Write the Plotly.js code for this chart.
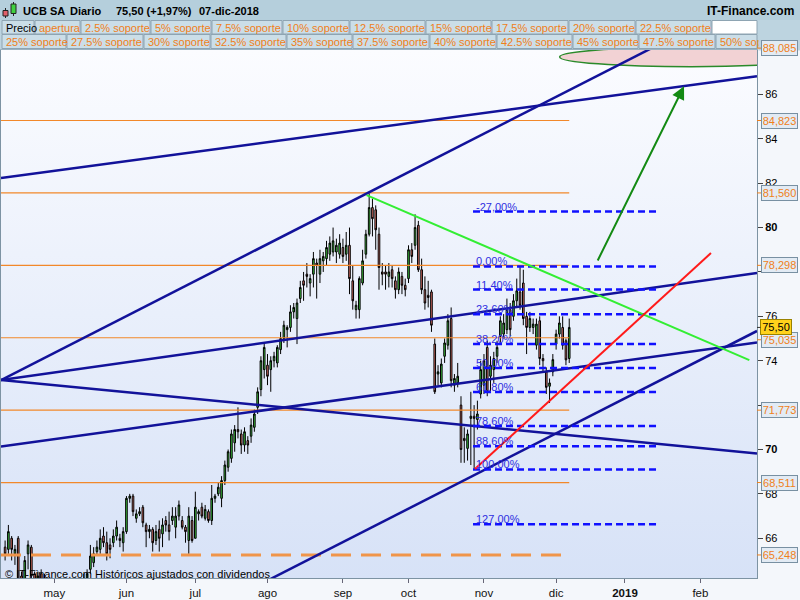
<!DOCTYPE html>
<html><head><meta charset="utf-8">
<script src="https://cdn.plot.ly/plotly-3.0.1.min.js"></script>
<style>
html,body{margin:0;padding:0;background:#f4f7fb;}
#wrap{position:relative;width:800px;height:600px;overflow:hidden;}
#bg{position:absolute;left:1px;top:50px;width:756px;height:528px;background:linear-gradient(#fbfcff,#d7e2f7);}
#chart{position:absolute;left:0;top:0;width:800px;height:600px;}
</style></head><body>
<div id="wrap"><div id="bg"></div><div id="chart"></div></div>
<script>
// ---------------- DATA ----------------
const firstDay = '2018-04-10';
const holidays = ['2018-05-01'];
const nDays = 173;
const open = [65.6,65.5,66.0,65.3,66.0,64.3,64.0,65.3,65.6,64.4, 64.0,64.4,64.2,63.9,63.5,63.6,63.4,63.2,63.3,63.7, 63.5,63.2,63.4,63.8,63.8,64.0,64.6,64.9,65.4,65.5, 66.1,65.8,65.7,65.8,66.1,66.0,65.8,66.3,67.8,67.9, 66.9,67.1,67.4,66.6,66.3,66.4,65.9,66.4,66.2,66.8, 66.6,66.8,66.5,67.0,66.8,66.5,65.9,66.8,66.0,67.1, 67.4,66.9,67.2,66.8,67.8,68.0,67.8,68.6,69.2,69.6, 70.3,70.9,70.7,70.2,70.4,70.6,71.0,71.9,72.7,73.6, 73.8,73.6,74.0,73.9,74.5,75.0,75.4,75.5,76.2,75.9, 76.8,77.6,77.9,77.5,77.9,78.4,77.9,78.5,78.6,78.8, 78.9,78.9,78.8,79.1,78.8,79.2,77.6,76.3,76.3,77.5, 78.8,79.7,80.9,80.8,79.7,78.0,78.0,77.8,78.1,77.6, 77.2,77.8,77.4,77.7,79.0,79.2,80.1,78.1,77.2,76.95, 77.1,74.75,73.4,73.0,74.2,74.7,75.9,72.9,73.0,72.0, 70.5,70.05,71.4,71.5,71.35,72.5,72.9,74.6,73.3,73.6, 74.2,75.1,75.2,75.4,76.3,76.0,76.7,77.1,77.5,76.0, 75.5,75.5,74.7,75.8,74.1,73.5,72.85,73.5,74.75,75.2, 75.5,74.9,74.1];
const high = [65.9,66.6,66.1,65.7,66.1,64.5,65.2,65.9,65.7,64.5, 64.5,64.6,64.4,64.0,63.8,63.9,63.7,63.5,63.9,64.0, 63.8,63.6,63.9,64.1,64.4,64.6,65.7,65.6,65.9,66.4, 66.5,66.3,66.0,66.4,66.8,66.2,66.5,67.9,68.0,68.0, 67.3,67.4,67.5,66.7,66.6,66.5,66.6,66.8,66.9,67.0, 67.2,67.4,67.4,67.7,67.0,66.6,67.4,67.0,68.1,67.3, 67.6,67.5,67.3,68.4,68.0,68.5,68.8,69.5,70.0,70.9, 71.1,71.9,70.9,71.0,70.6,71.4,71.8,72.8,74.2,74.8, 74.3,74.2,74.4,74.7,75.3,75.8,75.6,76.5,76.6,76.8, 77.6,78.0,78.4,77.9,78.9,78.6,79.0,78.9,79.4,79.6, 80.0,79.5,79.7,79.5,79.8,80.0,78.3,76.7,77.8,79.0, 79.9,81.55,81.3,81.0,80.0,78.4,78.3,78.4,78.3,77.8, 78.2,78.0,77.7,79.2,79.3,80.6,80.3,78.6,77.8,77.6, 77.2,75.0,73.8,74.1,75.0,76.1,76.4,73.4,73.9,72.4, 71.0,70.9,72.6,72.0,72.2,74.0,74.3,74.9,74.2,74.4, 74.9,76.0,76.1,76.8,76.6,77.0,77.7,78.3,78.1,76.2, 76.2,75.9,75.9,76.0,74.3,73.7,73.2,74.3,75.4,76.0, 76.0,75.0,75.9];
const low = [65.0,65.3,65.0,64.8,63.8,63.5,63.7,64.6,64.1,63.8, 63.8,63.9,63.7,63.3,63.1,63.2,62.9,62.8,63.1,63.3, 63.0,62.9,63.2,63.4,63.6,63.8,64.4,64.7,65.2,65.3, 65.6,65.0,65.1,65.6,65.9,65.6,65.4,66.2,67.6,67.0, 66.7,67.0,66.5,65.6,66.0,65.4,65.7,65.4,65.6,66.3, 65.9,66.6,66.0,66.8,66.4,65.8,65.3,65.8,66.0,66.8, 66.9,66.8,66.7,66.6,67.6,67.9,67.4,68.4,69.0,69.4, 69.9,70.5,69.8,69.9,69.8,70.3,70.8,71.6,72.4,73.2, 72.9,72.6,73.7,73.7,74.3,74.8,74.6,75.3,75.9,74.75, 76.6,76.7,77.3,76.9,77.3,76.8,77.5,78.0,78.3,78.5, 78.7,78.4,78.6,78.4,78.5,77.0,76.3,75.9,75.9,77.4, 78.6,79.6,79.6,79.0,77.2,77.4,77.2,77.3,77.3,76.8, 77.0,77.0,76.9,77.5,78.4,79.0,78.0,77.0,76.3,76.4, 75.3,72.5,72.9,72.8,73.9,74.5,72.8,72.6,72.8,69.4, 69.4,69.5,69.3,69.1,70.9,72.3,72.5,72.4,72.6,73.0, 73.9,74.8,75.0,75.2,75.1,75.8,76.4,76.3,75.6,74.3, 75.3,75.2,74.5,73.8,73.5,72.5,72.1,73.3,74.5,75.0, 74.5,73.8,73.9];
const close = [65.3,66.3,65.5,65.5,64.1,63.8,65.0,65.7,64.3,64.0, 64.3,64.1,63.9,63.5,63.6,63.4,63.2,63.3,63.7,63.5, 63.2,63.4,63.8,63.6,64.2,64.4,65.2,65.3,65.6,66.0, 65.8,65.3,65.5,66.1,66.5,65.9,66.3,67.8,67.9,67.2, 67.1,67.2,66.7,66.3,66.4,65.8,66.3,66.0,66.6,66.6, 66.3,67.0,67.0,67.5,66.5,66.3,67.0,65.9,67.4,67.2, 67.0,67.3,66.8,67.8,67.9,68.3,68.6,69.3,69.9,70.7, 70.9,70.8,70.2,70.8,70.2,71.1,71.6,72.6,74.0,74.6, 73.3,74.0,74.2,74.6,75.0,75.6,75.5,76.2,76.4,76.6, 77.3,77.4,77.8,77.7,78.6,78.3,78.6,78.7,79.1,79.3, 79.4,79.2,79.3,78.7,79.2,77.7,76.7,76.5,77.7,78.5, 79.7,80.9,80.4,79.9,78.2,77.9,77.9,78.0,77.7,77.2, 78.0,77.4,77.2,79.0,78.7,80.0,78.1,77.2,76.6,76.85, 75.6,72.6,73.5,73.85,74.8,75.8,73.1,73.2,73.3,70.0, 70.4,70.7,71.5,71.4,71.6,73.6,74.0,72.6,73.8,74.1, 74.6,75.8,75.7,76.3,75.4,76.7,77.15,76.5,75.9,75.5, 75.9,75.65,75.65,74.1,74.0,72.8,73.0,74.05,75.2,75.7, 74.7,74.04,75.5];

// horizontal support/resistance levels (orange)
const levels = [88.085, 84.823, 81.560, 78.298, 75.035, 71.773, 68.511];
const dashedLevel = 65.248;
const levelsEnd = '2018-12-07';
// Fibonacci retracement
const fibHigh = 78.25, fibLow = 69.10;
const fibPct = [-0.27, 0, 0.114, 0.236, 0.382, 0.5, 0.618, 0.786, 0.886, 1, 1.27];
const fibLabels = ['-27,00%','0,00%','11,40%','23,60%','38,20%','50,00%','61,80%','78,60%','88,60%','100,00%','127,00%'];
const fibStart = '2018-10-26 16:00', fibEnd = '2019-01-15 10:00';
// trend lines [date0, price0, date1, price1]
const X_START = '2018-04-06 18:00', X_END = '2019-02-26 06:00';
const blueLines = [
  [X_START, 73.13, '2019-01-11 05:00', 88.09],
  [X_START, 73.13, X_END, 77.95],
  [X_START, 73.13, X_END, 69.82],
  [X_START, 70.14, X_END, 74.82],
  ['2018-07-16 06:00', 63.21, X_END, 75.34],
  [X_START, 82.23, X_END, 86.82]
];
const greenLine = ['2018-09-12 05:00', 81.46, '2019-02-21 22:00', 74.03];
const redLine = ['2018-10-29 06:00', 69.12, '2019-02-06 05:00', 78.85];
const arrowTail = ['2018-12-19 11:00', 78.45];
const arrowHead = ['2019-01-25', 86.37];
const targetZone = ['2018-12-04 02:00', 87.25, '2019-03-18 07:00', 88.13];
const lastPrice = 75.50;
// axis ticks
const monthTicks = ['2018-05-02','2018-06-01','2018-07-02','2018-08-01','2018-09-03','2018-10-01','2018-11-01','2018-12-03','2019-01-01','2019-02-01'];
const monthLabels = ['may','jun','jul','ago','sep','oct','nov','dic','<b>2019</b>','feb'];
const priceTicks = [66,68,70,72,74,76,78,80,82,84,86];
// 72 and 78 are hidden under the level boxes in the original
const priceLabels = ['66','68','<b>70</b>','','74','76','','<b>80</b>','82','84','86'];
// header texts
const titleParts = ['UCB SA','Diario','75,50 (+1,97%)','07-dic-2018'];
const siteName = 'IT-Finance.com';
const row2Labels = ['Precio','apertura','2.5% soporte','5% soporte','7.5% soporte','10% soporte','12.5% soporte','15% soporte','17.5% soporte','20% soporte','22.5% soporte'];
const row3Labels = ['25% soporte','27.5% soporte','30% soporte','32.5% soporte','35% soporte','37.5% soporte','40% soporte','42.5% soporte','45% soporte','47.5% soporte','50% soporte'];
const footer = '© IT-Finance.com Históricos ajustados con dividendos';

// ---------------- DATES ----------------
const dates = [];
{ let d = new Date(firstDay + 'T00:00:00Z');
  while (dates.length < nDays) {
    const s = d.toISOString().slice(0,10), w = d.getUTCDay();
    if (w !== 0 && w !== 6 && holidays.indexOf(s) < 0) dates.push(s);
    d.setUTCDate(d.getUTCDate() + 1);
  } }

// ---------------- LAYOUT ----------------
const FONT = 'Liberation Sans, Arial, sans-serif';
const ML = 1, PW = 756, MT = 50, PH = 528;
const Y0 = 64.21, Y1 = 88.0;
const fx = px => (px - ML) / PW;
const fy = py => (MT + PH - py) / PH;
const ORANGE = '#f0801a';

const shapes = [];
const annotations = [];

// header backgrounds
shapes.push({type:'rect', xref:'paper', yref:'paper', x0:fx(-2), x1:fx(802), y0:fy(-2), y1:fy(20), fillcolor:'#b5cfdc', line:{width:0}});
shapes.push({type:'rect', xref:'paper', yref:'paper', x0:fx(-2), x1:fx(802), y0:fy(20), y1:fy(49.5), fillcolor:'#bdd4e0', line:{width:0}});
// candle icon
shapes.push({type:'line', xref:'paper', yref:'paper', x0:fx(5.5), x1:fx(5.5), y0:fy(8), y1:fy(18), line:{color:'#222', width:1}});
shapes.push({type:'rect', xref:'paper', yref:'paper', x0:fx(3), x1:fx(8), y0:fy(10.5), y1:fy(16), fillcolor:'#e0606a', line:{color:'#222', width:1}});
shapes.push({type:'line', xref:'paper', yref:'paper', x0:fx(13.5), x1:fx(13.5), y0:fy(2), y1:fy(16), line:{color:'#222', width:1}});
shapes.push({type:'rect', xref:'paper', yref:'paper', x0:fx(11), x1:fx(16), y0:fy(4), y1:fy(13.5), fillcolor:'#40d040', line:{color:'#222', width:1}});

const row2Edges = [2,35,81,151,212,283,350,426,492,569,636,712];
const row3Edges = [2,67,144,211,287,353,430,497,573,639,716,800];
function cellRow(edges, labels, top, bot) {
  for (let k = 0; k < labels.length; k++) {
    const a = edges[k], b = Math.min(edges[k+1] - 1, 757);
    shapes.push({type:'rect', xref:'paper', yref:'paper', x0:fx(a), x1:fx(b), y0:fy(top), y1:fy(bot), fillcolor:'#cbdee8', line:{color:'#8ea4b2', width:1}});
    annotations.push({xref:'paper', yref:'paper', x:fx(a + 2), y:fy((top + bot) / 2 + 0.5), xanchor:'left', yanchor:'middle', showarrow:false, text:labels[k], font:{family:FONT, size:11, color: labels[k] === 'Precio' ? '#000' : ORANGE}});
  }
}
cellRow(row2Edges, row2Labels, 20.5, 34);
cellRow(row3Edges, row3Labels, 34.5, 48.5);
shapes.push({type:'rect', xref:'paper', yref:'paper', x0:fx(712), x1:fx(757), y0:fy(20.5), y1:fy(34), fillcolor:'#ffffff', line:{color:'#8ea4b2', width:1}});

// title texts
const titleX = [21, 68, 114, 197];
titleParts.forEach((t, k) => annotations.push({xref:'paper', yref:'paper', x:fx(titleX[k]), y:fy(10.5), xanchor:'left', yanchor:'middle', showarrow:false, text:'<b>' + t + '</b>', font:{family:FONT, size:11, color:'#000'}}));
annotations.push({xref:'paper', yref:'paper', x:fx(796), y:fy(10.5), xanchor:'right', yanchor:'middle', showarrow:false, text:'<b>' + siteName + '</b>', font:{family:FONT, size:12, color:'#000'}});
// cover overflow of last row-3 cell beyond the plot edge
annotations.push({xref:'paper', yref:'paper', x:fx(758), y:fy(34.5), xanchor:'left', yanchor:'top', showarrow:false, text:' ', width:44, height:14, bgcolor:'#bdd4e0', borderpad:0});

// target ellipse
shapes.push({type:'circle', xref:'x', yref:'y', x0:targetZone[0], y0:targetZone[1], x1:targetZone[2], y1:targetZone[3], fillcolor:'#f2d2d4', line:{color:'#2a8a2a', width:1.5}});
// orange levels
levels.forEach(v => shapes.push({type:'line', xref:'x', yref:'y', x0:X_START, x1:levelsEnd, y0:v, y1:v, line:{color:'#f2882a', width:1.2}}));
shapes.push({type:'line', xref:'x', yref:'y', x0:X_START, x1:levelsEnd, y0:dashedLevel, y1:dashedLevel, line:{color:'#f0954a', width:3, dash:'20px,10px'}});
// blue trend lines
blueLines.forEach(l => shapes.push({type:'line', xref:'x', yref:'y', x0:l[0], y0:l[1], x1:l[2], y1:l[3], line:{color:'#12129a', width:2.5}}));
// fibonacci
fibPct.forEach((p, k) => {
  const v = fibHigh - p * (fibHigh - fibLow);
  shapes.push({type:'line', xref:'x', yref:'y', x0:fibStart, x1:fibEnd, y0:v, y1:v, line:{color:'#1010ff', width:2.5, dash:'7px,4px'}});
  annotations.push({xref:'x', yref:'y', x:fibStart, y:v, xanchor:'left', yanchor:'bottom', yshift:-3, xshift:1, showarrow:false, text:fibLabels[k], font:{family:FONT, size:11, color:'#2e2ee0'}});
});
shapes.push({type:'line', xref:'x', yref:'y', x0:greenLine[0], y0:greenLine[1], x1:greenLine[2], y1:greenLine[3], line:{color:'#33ee33', width:2}});
shapes.push({type:'line', xref:'x', yref:'y', x0:redLine[0], y0:redLine[1], x1:redLine[2], y1:redLine[3], line:{color:'#ff1a1a', width:2}});
annotations.push({xref:'x', yref:'y', axref:'x', ayref:'y', x:arrowHead[0], y:arrowHead[1], ax:arrowTail[0], ay:arrowTail[1], text:'', showarrow:true, arrowhead:2, arrowsize:1.3, arrowwidth:2, arrowcolor:'#138a13', standoff:0});

// right-axis level labels
const fmt = v => v.toFixed(3).replace('.', ',');
levels.concat([dashedLevel]).forEach(v => {
  const inRange = v <= Y1 && v >= Y0;
  annotations.push({xref:'paper', yref: inRange ? 'y' : 'paper', x:fx(757), y: inRange ? v : (v - Y0) / (Y1 - Y0),
    yshift: v === 75.035 ? -2 : 0,
    showarrow:true, arrowhead:0, arrowwidth:1, arrowcolor:ORANGE, ax:22, ay:0, standoff:0,
    text:fmt(v), font:{family:FONT, size:11, color:ORANGE}, bgcolor:'#e2ebf4', bordercolor:'#7890a2', borderwidth:1, borderpad:1, width:33});
});
annotations.push({xref:'paper', yref:'y', x:fx(757), y:lastPrice, showarrow:true, arrowhead:0, arrowwidth:1, arrowcolor:'#333', ax:19, ay:0, standoff:0,
  text:lastPrice.toFixed(2).replace('.', ','), font:{family:FONT, size:11, color:'#000'}, bgcolor:'#ffd21c', bordercolor:'#9a8200', borderwidth:1, borderpad:1, width:28});
// footer
annotations.push({xref:'paper', yref:'paper', x:fx(3), y:fy(574), xanchor:'left', yanchor:'middle', showarrow:false, text:footer, font:{family:FONT, size:11, color:'#000'}});

const trace = {
  type:'candlestick', x:dates, open:open, high:high, low:low, close:close,
  increasing:{line:{color:'#000', width:1}, fillcolor:'#40cf40'},
  decreasing:{line:{color:'#000', width:1}, fillcolor:'#e8766b'},
  whiskerwidth:0, hoverinfo:'skip'
};

const layout = {
  width:800, height:600,
  margin:{l:ML, r:800 - ML - PW, t:MT, b:600 - MT - PH, pad:0},
  paper_bgcolor:'rgba(0,0,0,0)', plot_bgcolor:'rgba(0,0,0,0)',
  showlegend:false, hovermode:false, dragmode:false,
  font:{family:FONT, size:11, color:'#000'},
  xaxis:{type:'date', range:[X_START, X_END], rangebreaks:[{bounds:['sat','mon']},{values:holidays}],
    rangeslider:{visible:false}, tickmode:'array', tickvals:monthTicks, ticktext:monthLabels,
    ticks:'outside', ticklen:4, tickcolor:'#667', tickfont:{family:FONT, size:11.5, color:'#111'},
    showline:true, mirror:true, linecolor:'#7d93a3', linewidth:1, showgrid:false, zeroline:false, fixedrange:true},
  yaxis:{side:'right', range:[Y0, Y1], tickmode:'array', tickvals:priceTicks, ticktext:priceLabels,
    ticks:'outside', ticklen:5, tickcolor:'#444', tickfont:{family:FONT, size:11, color:'#000'},
    showline:true, mirror:true, linecolor:'#7d93a3', linewidth:1, showgrid:false, zeroline:false, fixedrange:true},
  shapes:shapes, annotations:annotations
};

Plotly.newPlot('chart', [trace], layout, {staticPlot:true, displayModeBar:false});
</script>
</body></html>
